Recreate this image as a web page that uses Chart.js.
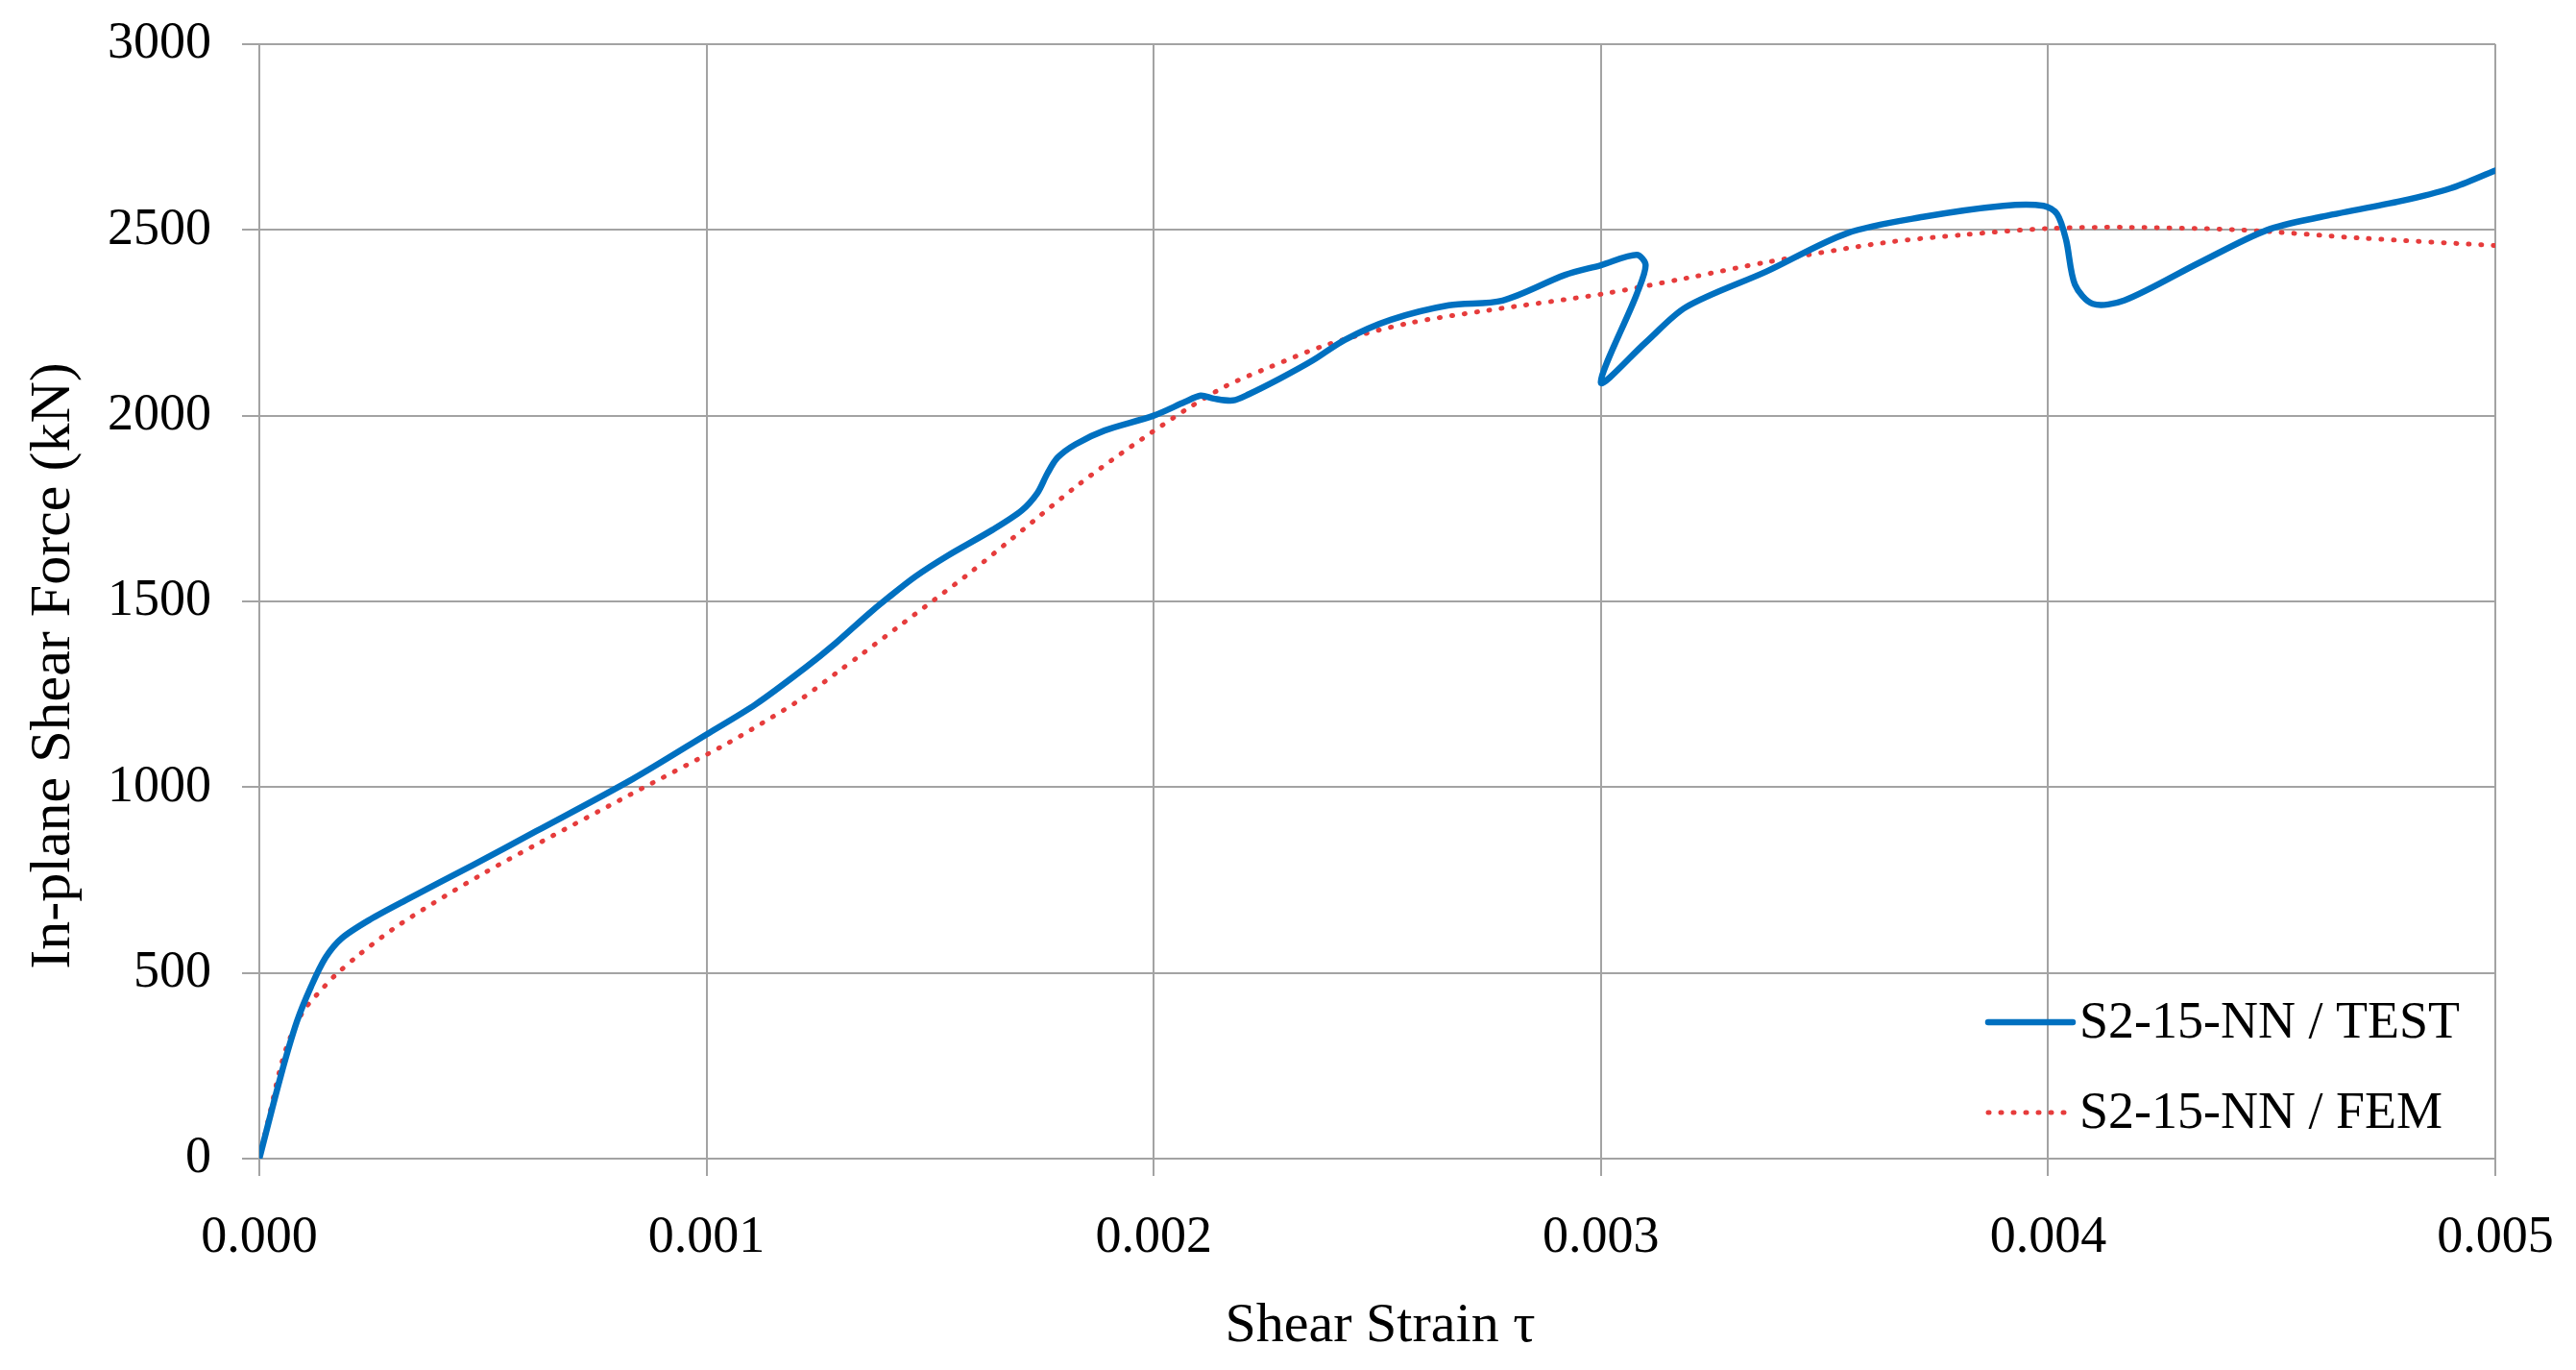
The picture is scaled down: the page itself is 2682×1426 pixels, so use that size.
<!DOCTYPE html>
<html>
<head>
<meta charset="utf-8">
<script src="https://cdn.jsdelivr.net/npm/chart.js@4.4.1/dist/chart.umd.min.js"></script>
<style>
    html, body { margin: 0; padding: 0; background: #ffffff; }
    canvas { display: block; }
</style>
</head>
<body>
<canvas id="chart" width="2682" height="1426"></canvas>
<script>
/* globals Chart */

// S2-15-NN / TEST (goes back on itself near 0.003)
const testStrain = [0, 0.000048, 0.000084, 0.000116, 0.000148, 0.000184, 0.000248, 0.000334, 0.000477, 0.00062,
    0.000835, 0.001, 0.00111, 0.001217, 0.001288, 0.00136, 0.001403, 0.001467, 0.001539, 0.00164,
    0.001705, 0.00174, 0.001762, 0.001785, 0.001825, 0.00189, 0.002, 0.00207, 0.002105, 0.002134,
    0.002177, 0.002213, 0.002284, 0.002356, 0.002427, 0.00253, 0.00266, 0.00278, 0.00292, 0.003,
    0.00308, 0.0031, 0.00308, 0.003, 0.0031, 0.00319, 0.00337, 0.00355, 0.00372, 0.0039,
    0.00399, 0.00402, 0.00404, 0.00406, 0.0041, 0.00417, 0.00434, 0.00449, 0.00461, 0.00479,
    0.0049, 0.005];
const testForce = [0, 223, 369, 464, 541, 593, 644, 700, 790, 882,
    1022, 1142, 1223, 1318, 1387, 1464, 1507, 1567, 1623, 1693,
    1745, 1792, 1844, 1887, 1923, 1960, 2000, 2037, 2054, 2046,
    2041, 2058, 2101, 2149, 2204, 2258, 2297, 2310, 2379, 2405,
    2433, 2405, 2327, 2089, 2197, 2292, 2388, 2491, 2535, 2565,
    2565, 2543, 2474, 2353, 2301, 2310, 2413, 2500, 2535, 2578,
    2612, 2660];

// S2-15-NN / FEM
const femStrain = [0, 0.000023, 0.000048, 0.000069, 0.0001, 0.000146, 0.00017, 0.00022, 0.0003, 0.000388,
    0.000503, 0.00062, 0.000828, 0.001038, 0.001124, 0.00121, 0.001292, 0.001346, 0.001428, 0.00151,
    0.001589, 0.001669, 0.001747, 0.001826, 0.001908, 0.001993, 0.002077, 0.002162, 0.002256, 0.00239,
    0.00257, 0.00275, 0.003, 0.00319, 0.00337, 0.00363, 0.00381, 0.004, 0.00417, 0.00443,
    0.0047, 0.005];
const femForce = [0, 120, 249, 326, 400, 464, 494, 546, 619, 687,
    769, 846, 979, 1112, 1172, 1236, 1309, 1357, 1431, 1505,
    1577, 1655, 1732, 1809, 1882, 1953, 2020, 2080, 2129, 2192,
    2249, 2284, 2327, 2370, 2413, 2465, 2487, 2504, 2507, 2500,
    2478, 2458];

const seriesLabels = ["S2-15-NN / TEST", "S2-15-NN / FEM"];
const xTicks = [0, 0.001, 0.002, 0.003, 0.004, 0.005];
const yTicks = [0, 500, 1000, 1500, 2000, 2500, 3000];
const xTitle = "Shear Strain τ";
const yTitle = "In-plane Shear Force (kN)";

const BLUE = "rgb(0, 112, 192)";
const RED = "rgb(230, 60, 60)";
const GRID = "#a3a3a3";
const FONT = "'Liberation Serif', 'DejaVu Serif', serif";

const toPoints = (xs, ys) => xs.map((x, i) => ({ x, y: ys[i] }));

// axis titles + legend drawn by hand so they sit where the original has them
const extras = {
    id: "extras",
    afterDatasetsDraw(chart) {
        const { ctx, chartArea } = chart;
        ctx.save();
        ctx.fillStyle = "#000000";
        ctx.textAlign = "center";
        ctx.textBaseline = "middle";
        ctx.font = `58px ${FONT}`;
        ctx.fillText(xTitle, (chartArea.left + chartArea.right) / 2 + 3, chartArea.bottom + 175);

        ctx.font = `60px ${FONT}`;
        ctx.translate(56, (chartArea.top + chartArea.bottom) / 2 + 67);
        ctx.rotate(-Math.PI / 2);
        ctx.fillText(yTitle, 0, 0);
        ctx.restore();

        const textX = chartArea.right - 433;
        const rows = [chartArea.bottom - 142, chartArea.bottom - 48];
        ctx.save();
        chart.data.datasets.forEach((ds, i) => {
            const y = rows[i];
            ctx.beginPath();
            ctx.strokeStyle = ds.borderColor;
            ctx.lineWidth = ds.borderWidth;
            ctx.lineCap = ds.borderCapStyle || "butt";
            ctx.setLineDash(ds.borderDash || []);
            ctx.moveTo(textX - 95, y);
            ctx.lineTo(textX - 7, y);
            ctx.stroke();
            ctx.setLineDash([]);
            ctx.fillStyle = "#000000";
            ctx.font = `54px ${FONT}`;
            ctx.textBaseline = "middle";
            ctx.textAlign = "left";
            ctx.fillText(ds.label, textX, y + 2);
        });
        ctx.restore();
    }
};

new Chart(document.getElementById("chart"), {
    type: "scatter",
    data: {
        datasets: [
            {
                label: seriesLabels[0],
                data: toPoints(testStrain, testForce),
                showLine: true,
                borderColor: BLUE,
                borderWidth: 6.5,
                pointRadius: 0,
                tension: 0.3,
                borderJoinStyle: "round",
                borderCapStyle: "round"
            },
            {
                label: seriesLabels[1],
                data: toPoints(femStrain, femForce),
                showLine: true,
                borderColor: RED,
                borderWidth: 5,
                borderDash: [1, 12],
                borderCapStyle: "round",
                pointRadius: 0,
                tension: 0.3
            }
        ]
    },
    options: {
        responsive: false,
        animation: false,
        devicePixelRatio: 1,
        layout: { padding: { top: 46, right: 84, bottom: 0, left: 20 } },
        plugins: {
            legend: { display: false },
            tooltip: { enabled: false }
        },
        scales: {
            x: {
                type: "linear",
                min: 0,
                max: 0.005,
                afterBuildTicks: (axis) => { axis.ticks = xTicks.map((v) => ({ value: v })); },
                afterFit: (axis) => {
                    axis.height = 220;
                    axis.paddingLeft = 0;
                    axis.paddingRight = 0;
                },
                grid: { color: GRID, lineWidth: 2, tickLength: 18, drawTicks: true },
                border: { color: GRID, width: 2 },
                ticks: {
                    color: "#000000",
                    font: { family: FONT, size: 54 },
                    padding: 32,
                    maxRotation: 0,
                    callback: (v) => Number(v).toFixed(3)
                }
            },
            y: {
                type: "linear",
                min: 0,
                max: 3000,
                afterBuildTicks: (axis) => { axis.ticks = yTicks.map((v) => ({ value: v })); },
                afterFit: (axis) => {
                    axis.width = 250;
                    axis.paddingTop = 0;
                    axis.paddingBottom = 0;
                },
                grid: { color: GRID, lineWidth: 2, tickLength: 18, drawTicks: true },
                border: { color: GRID, width: 2 },
                ticks: {
                    color: "#000000",
                    font: { family: FONT, size: 54 },
                    padding: 32,
                    callback: (v) => String(v)
                }
            }
        }
    },
    plugins: [extras]
});
</script>
</body>
</html>
